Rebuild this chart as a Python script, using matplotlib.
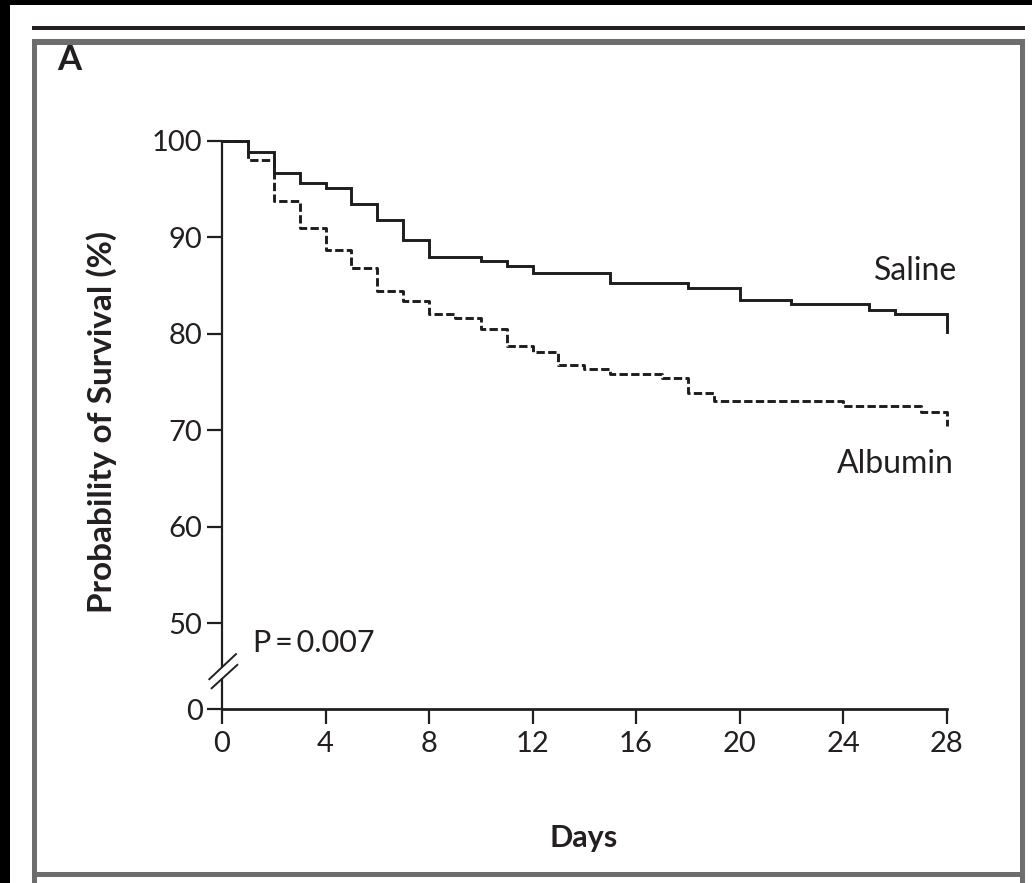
import matplotlib
matplotlib.use("Agg")
import matplotlib.pyplot as plt
from matplotlib.patches import Rectangle

# ---------------- data ----------------
saline_days = [0, 1, 2, 3, 4, 5, 6, 7, 8, 10, 11, 12, 15, 18, 20, 22, 25, 26, 28]
saline_surv = [100, 98.8, 96.7, 95.6, 95.1, 93.4, 91.8, 89.7, 87.9, 87.5, 87.0,
               86.3, 85.2, 84.7, 83.5, 83.1, 82.5, 82.0, 80.2]
albumin_days = [0, 1, 2, 3, 4, 5, 6, 7, 8, 9, 10, 11, 12, 13, 14, 15, 17, 18,
                19, 24, 27, 28]
albumin_surv = [100, 98.0, 93.8, 91.0, 88.7, 86.8, 84.4, 83.4, 82.0, 81.6, 80.5,
                78.7, 78.1, 76.8, 76.3, 75.8, 75.4, 73.9, 73.0, 72.5, 71.9, 70.4]
x_ticks = [0, 4, 8, 12, 16, 20, 24, 28]
y_tick_values = [50, 60, 70, 80, 90, 100]
y_tick_labels = ["0", "50", "60", "70", "80", "90", "100"]

# ---------------- layout ----------------
W, H = 1032, 883
plt.rcParams['lines.scale_dashes'] = False
FONT = ['Lato', 'DejaVu Sans']
plt.rcParams['font.family'] = FONT
TXT = '#231f20'

fig = plt.figure(figsize=(W / 100, H / 100), dpi=100)

def px_rect(x, y, w, h, color):
    fig.add_artist(Rectangle((x / W, 1 - (y + h) / H), w / W, h / H,
                             transform=fig.transFigure, facecolor=color,
                             edgecolor='none', zorder=0))

# outer decoration
px_rect(0, 0, W, 5, 'black')
px_rect(0, 0, 10, H, 'black')
px_rect(32, 26, 993, 3.5, '#231f20')
px_rect(32, 39, 993, 6, '#6d6d6d')
px_rect(32, 39, 5, H - 39, '#6d6d6d')
px_rect(1020, 39, 5, H - 39, '#6d6d6d')
px_rect(32, 872, 993, 5, '#6d6d6d')

# axes
x0, x1 = 222, 946.5
ytop, ybot = 140.7, 709
ax = fig.add_axes([x0 / W, 1 - ybot / H, (x1 - x0) / W, (ybot - ytop) / H])
ax.patch.set_alpha(0)
v0 = 41.1  # virtual position for the broken-axis "0"
ax.set_xlim(0, 28)
ax.set_ylim(v0, 100)

ax.step(saline_days, saline_surv, where='post', color='#1f1c1d', lw=2.1,
        clip_on=False, solid_joinstyle='miter')
ax.step(albumin_days, albumin_surv, where='post', color='#1f1c1d', lw=2.1,
        linestyle=(0, (6, 2.4)), clip_on=False)

for s in ['top', 'right', 'left']:
    ax.spines[s].set_visible(False)
ax.spines['bottom'].set_linewidth(2.0)
ax.spines['bottom'].set_color('#231f20')

# left axis with break
ax.plot([0, 0], [v0, 44.3], color='#231f20', lw=1.6, clip_on=False,
        solid_capstyle='butt')
ax.plot([0, 0], [45.5, 100], color='#231f20', lw=1.6, clip_on=False,
        solid_capstyle='butt')
ax.plot([-0.49, 0.54], [44.19, 46.79], color='#231f20', lw=1.4, clip_on=False)
ax.plot([-0.40, 0.59], [43.25, 45.67], color='#231f20', lw=1.4, clip_on=False)

ax.set_xticks(x_ticks)
ax.set_xticklabels([str(t) for t in x_ticks])
ax.set_yticks([v0] + y_tick_values)
ax.set_yticklabels(y_tick_labels)
ax.tick_params(axis='both', direction='out', length=11, width=1.6,
               color='#231f20', labelsize=21, labelcolor=TXT)
ax.tick_params(axis='y', pad=3)
ax.tick_params(axis='x', pad=5)

ax.text(28.42, 85.56, "Saline", ha='right', va='baseline', fontsize=23,
        color=TXT)
ax.text(28.3, 65.56, "Albumin", ha='right', va='baseline', fontsize=23,
        color=TXT)
ax.text(1.2, 47.0, "P\u2009=\u20090.007", ha='left', va='baseline', fontsize=22,
        color=TXT)

fig.text(102 / W, 1 - 422 / H, "Probability of Survival (%)", rotation=90,
         ha='center', va='center', fontsize=24, fontweight='bold', color=TXT)
fig.text(584 / W, 1 - 838 / H, "Days", ha='center', va='center',
         fontsize=22, fontweight='bold', color=TXT)
fig.text(57 / W, 1 - 60 / H, "A", ha='left', va='center',
         fontsize=25, fontweight='bold', color=TXT)

fig.savefig("out.png", dpi=100)
